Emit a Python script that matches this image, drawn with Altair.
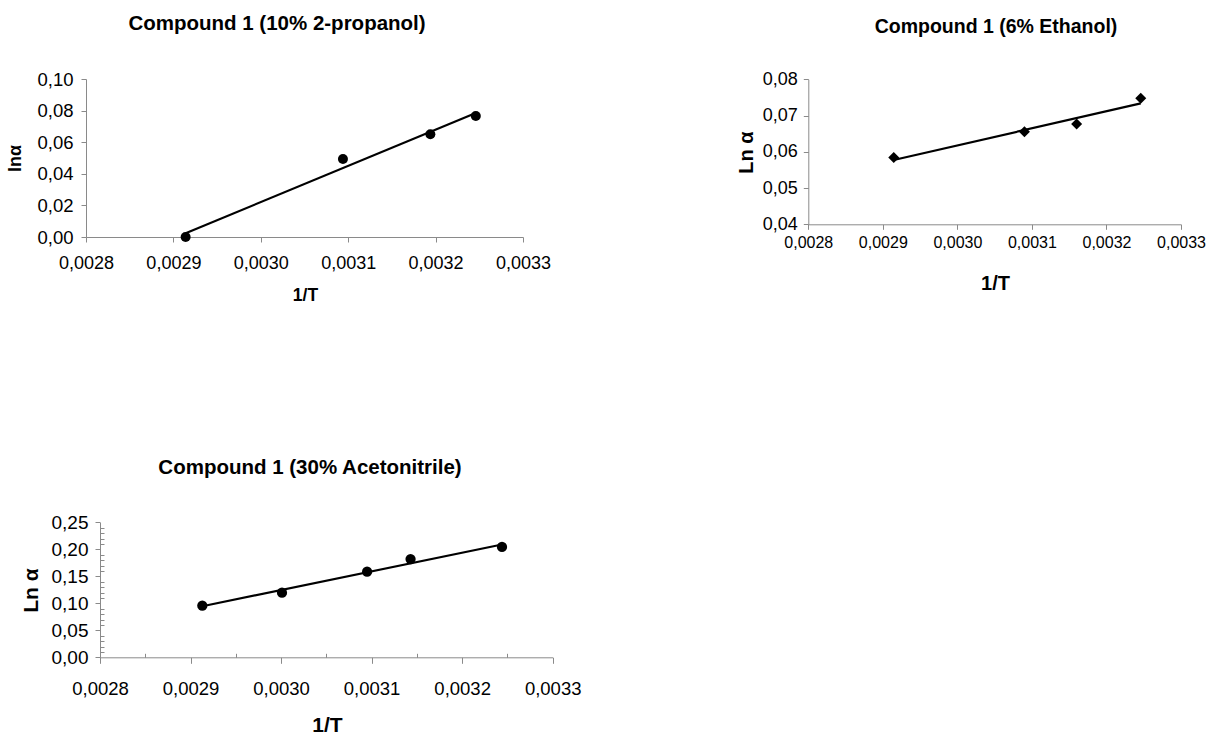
import altair as alt
import pandas as pd

# ---- data ----
p1_x = [0.002914, 0.003094, 0.003194, 0.003246]
p1_y = [0.0000, 0.0494, 0.0650, 0.0766]

p2_x = [0.0029146, 0.003090, 0.003160, 0.003246]
p2_y = [0.0584, 0.0655, 0.0677, 0.0748]

p3_x = [0.002913, 0.003001, 0.003095, 0.003143, 0.003244]
p3_y = [0.0956, 0.1196, 0.1585, 0.1820, 0.2043]

x_ticks = [0.0028, 0.0029, 0.0030, 0.0031, 0.0032, 0.0033]
p1_y_ticks = [0.00, 0.02, 0.04, 0.06, 0.08, 0.10]
p2_y_ticks = [0.04, 0.05, 0.06, 0.07, 0.08]
p3_y_ticks = [0.00, 0.05, 0.10, 0.15, 0.20, 0.25]
p3_x_minor = [0.00285, 0.00295, 0.00305, 0.00315, 0.00325]
p3_y_minor = [0.01, 0.02, 0.03, 0.04, 0.06, 0.07, 0.08, 0.09,
              0.11, 0.12, 0.13, 0.14, 0.16, 0.17, 0.18, 0.19,
              0.21, 0.22, 0.23, 0.24]

titles = ["Compound 1 (10% 2-propanol)", "Compound 1 (6% Ethanol)",
          "Compound 1 (30% Acetonitrile)"]
x_title = "1/T"
y_titles = ["lnα", "Ln α", "Ln α"]

W, H = 1210, 736
FONT = "Liberation Sans, Arial, sans-serif"
AX = "#8a8a8a"

X_EXPR = "replace(format(datum.value, '.4f'), '.', ',')"
Y_EXPR = "replace(format(datum.value, '.2f'), '.', ',')"


def x_axis(axis_y, label_size, pad, tick, title_x, title_dy, title_size):
    return alt.Axis(orient="bottom", offset=axis_y - H, values=x_ticks,
                    labelExpr=X_EXPR, labelFontSize=label_size, labelFont=FONT,
                    labelPadding=pad, tickSize=tick, labelFlush=False,
                    labelOverlap=False, grid=False, domainColor=AX, tickColor=AX,
                    labelColor="black", title=x_title, titleFontSize=title_size,
                    titleFont=FONT, titleFontWeight="bold", titleX=title_x,
                    titleY=title_dy, titleAlign="center", titleBaseline="middle",
                    titleColor="black")


def y_axis(axis_x, values, label_size, pad, tick, title, title_dx, title_y,
           title_size):
    return alt.Axis(orient="left", offset=-axis_x, values=values,
                    labelExpr=Y_EXPR, labelFontSize=label_size, labelFont=FONT,
                    labelPadding=pad, tickSize=tick, labelFlush=False,
                    labelOverlap=False, grid=False, domainColor=AX, tickColor=AX,
                    labelColor="black", title=title, titleFontSize=title_size,
                    titleFont=FONT, titleFontWeight="bold", titleX=title_dx,
                    titleY=title_y, titleAngle=270, titleAlign="center",
                    titleBaseline="middle", titleColor="black")


def panel(xs, ys, xdom, ydom, xr, yr, xax, yax, shape, size,
          minor_x=None, minor_y=None):
    df = pd.DataFrame({"x": xs, "y": ys})
    sx = alt.Scale(domain=xdom, range=xr, nice=False, zero=False)
    sy = alt.Scale(domain=ydom, range=yr, nice=False, zero=False)
    line = alt.Chart(df).transform_regression("x", "y").mark_line(
        color="black", strokeWidth=2.2).encode(
        x=alt.X("x:Q", scale=sx, axis=minor_x),
        y=alt.Y("y:Q", scale=sy, axis=minor_y))
    pts = alt.Chart(df).mark_point(shape=shape, filled=True, color="black",
                                   opacity=1, size=size).encode(
        x=alt.X("x:Q", scale=sx, axis=xax),
        y=alt.Y("y:Q", scale=sy, axis=yax))
    return [line, pts]


def title_layer(txt, x, y, size):
    return alt.Chart(pd.DataFrame({"t": [txt]})).mark_text(
        font=FONT, fontSize=size, fontWeight="bold", color="black",
        align="center", baseline="middle").encode(
        text="t:N", x=alt.value(x), y=alt.value(y))


# panel 1
p1 = panel(p1_x, p1_y, [0.0028, 0.0033], [0.0, 0.10], [86, 523], [237, 79],
           x_axis(237, 18, 12, 5, 305, 58, 17.5),
           y_axis(86, p1_y_ticks, 18.5, 8, 5, y_titles[0], -71, 158, 18),
           "circle", 100)

# panel 2
p2 = panel(p2_x, p2_y, [0.0028, 0.0033], [0.04, 0.08], [808.3, 1181],
           [224.3, 79.3],
           x_axis(224.3, 16, 5, 5, 995, 59, 20),
           y_axis(808.3, p2_y_ticks, 18, 6, 5, y_titles[1], -62, 152, 20),
           "diamond", 121)

# panel 3
minor_x = alt.Axis(orient="bottom", offset=657.3 - H - 4, values=p3_x_minor,
                   labels=False, domain=False, grid=False, tickSize=4,
                   tickColor=AX, title=None)
minor_y = alt.Axis(orient="left", offset=-(100 + 4), values=p3_y_minor,
                   labels=False, domain=False, grid=False, tickSize=4,
                   tickColor=AX, title=None)
p3 = panel(p3_x, p3_y, [0.0028, 0.0033], [0.0, 0.25], [100, 552.7],
           [657.3, 522.3],
           x_axis(657.3, 18.5, 16, 6, 327, 68, 21),
           y_axis(100, p3_y_ticks, 19, 7, 5, y_titles[2], -69, 590, 21),
           "circle", 105, minor_x, minor_y)

layers = p1 + p2 + p3 + [
    title_layer(titles[0], 277, 24, 20.5),
    title_layer(titles[1], 996, 27, 19.5),
    title_layer(titles[2], 310, 468, 20.5),
]

chart = alt.layer(*layers).resolve_scale(
    x="independent", y="independent"
).resolve_axis(
    x="independent", y="independent"
).properties(
    width=W, height=H, padding=0,
    autosize=alt.AutoSizeParams(type="none"),
    background="white",
).configure_view(stroke=None)

chart.save("out.html", embed_options={"renderer": "svg", "actions": False})
